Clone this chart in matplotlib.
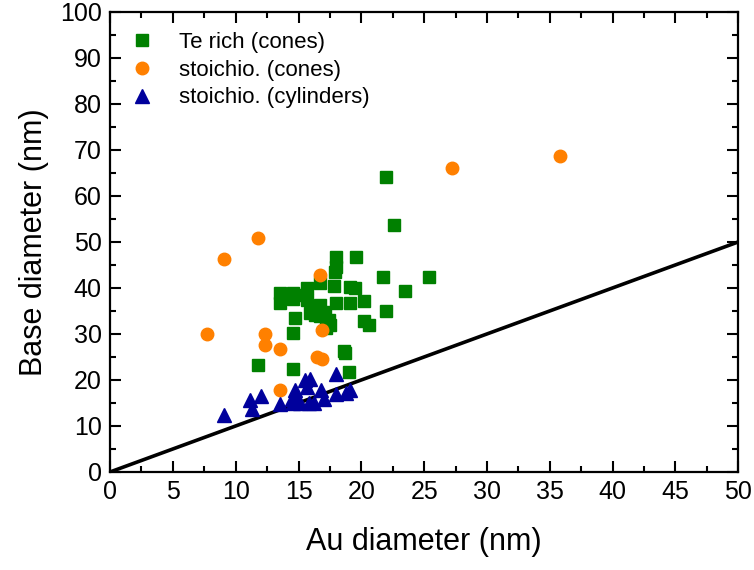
import matplotlib
matplotlib.use('Agg')
import matplotlib.pyplot as plt
from matplotlib.ticker import MultipleLocator
import numpy as np

plt.rcParams['font.family'] = ['Liberation Sans', 'DejaVu Sans']

# Te rich (cones)
te_x = [22.0, 22.6, 19.6, 18.0, 18.0, 17.9, 21.7, 25.4, 23.5,
        13.5, 13.5, 14.6, 14.6, 15.7, 15.7, 14.7, 14.6, 16.7, 17.8,
        19.1, 19.5, 16.7, 18.0, 19.1, 20.2, 15.9, 16.7, 17.4, 17.5,
        20.2, 20.6, 18.6, 11.8, 14.6, 18.7, 19.0, 16.2, 17.1, 22.0,
        15.5, 16.3, 17.2]
te_y = [64.2, 53.6, 46.8, 46.8, 44.6, 43.4, 42.3, 42.4, 39.3,
        39.0, 36.8, 39.0, 37.6, 40.0, 37.4, 33.5, 30.2, 41.0, 40.4,
        40.3, 39.9, 36.3, 36.8, 36.7, 37.2, 34.5, 33.8, 33.0, 32.0,
        32.8, 32.0, 26.2, 23.2, 22.3, 25.9, 21.8, 35.0, 34.8, 35.0,
        38.5, 34.2, 31.4]

# stoichio. (cones)
sc_x = [7.7, 9.1, 11.8, 12.3, 12.3, 13.5, 16.7, 16.9, 16.5, 16.9, 13.5, 27.2, 35.8]
sc_y = [30.0, 46.2, 50.9, 29.9, 27.7, 26.8, 42.9, 30.8, 25.0, 24.5, 17.8, 66.0, 68.7]

# stoichio. (cylinders)
cy_x = [9.1, 11.1, 12.0, 11.3, 13.5, 14.7, 14.7, 14.9, 14.5, 15.5, 15.9,
        15.7, 15.1, 15.8, 16.8, 17.0, 18.0, 18.0, 18.8, 19.1, 16.2, 14.6]
cy_y = [12.4, 15.7, 16.5, 13.6, 14.8, 17.9, 16.4, 15.3, 15.8, 19.9, 20.3,
        18.5, 14.9, 14.9, 17.8, 15.8, 21.4, 17.0, 17.1, 17.9, 14.9, 14.9]

line_x = [0, 50]
line_y = [0, 50]

fig = plt.figure(figsize=(7.54, 5.70), dpi=100)
ax = fig.add_axes([0.146, 0.172, 0.833, 0.807])

ax.plot(line_x, line_y, color='black', lw=2.6, zorder=1)
ax.plot(te_x, te_y, 's', color='#008000', ms=8, mec='#008000', label='Te rich (cones)', zorder=3)
ax.plot(sc_x, sc_y, 'o', color='#ff8000', ms=9, mec='#ff8000', label='stoichio. (cones)', zorder=3)
ax.plot(cy_x, cy_y, '^', color='#00009c', ms=10, mec='#00009c', label='stoichio. (cylinders)', zorder=3)

ax.set_xlim(0, 50)
ax.set_ylim(0, 100)
ax.xaxis.set_major_locator(MultipleLocator(5))
ax.xaxis.set_minor_locator(MultipleLocator(2.5))
ax.yaxis.set_major_locator(MultipleLocator(10))
ax.yaxis.set_minor_locator(MultipleLocator(5))
ax.tick_params(which='both', direction='in', top=True, right=True, width=1.5)
ax.tick_params(which='major', length=8, labelsize=18, pad=6)
ax.tick_params(which='minor', length=4)
for s in ax.spines.values():
    s.set_linewidth(1.6)

ax.set_xlabel("Au diameter (nm)", fontsize=22, labelpad=16)
ax.set_ylabel("Base diameter (nm)", fontsize=22, labelpad=8)

# legend sits tight in the top-left corner, no frame
ax.legend(loc='upper left', frameon=False, fontsize=16, handletextpad=0.9,
          borderaxespad=0.5, labelspacing=0.3, handlelength=1.6,
          bbox_to_anchor=(-0.01, 1.0))

plt.savefig("out.png", dpi=100)
plt.close()
